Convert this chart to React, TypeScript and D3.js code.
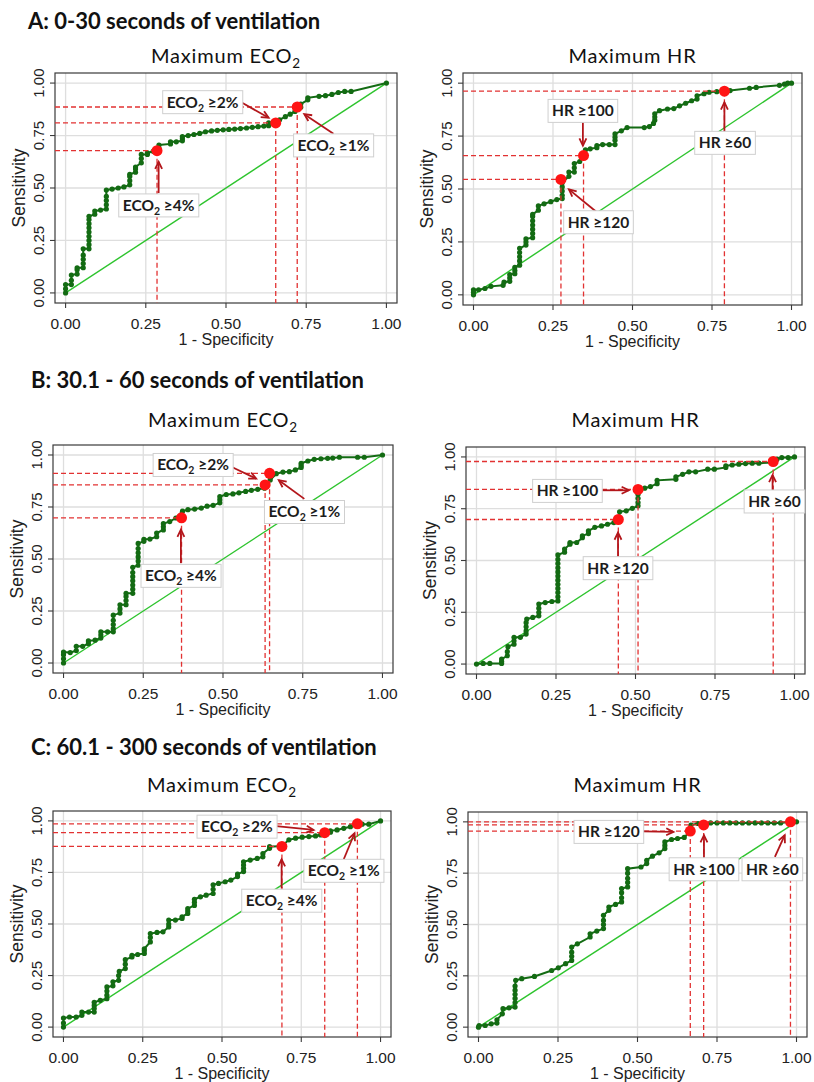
import React, { useEffect, useRef } from 'react';
import * as d3 from 'd3';

type Pt = [number, number];

// ---------------- DATA ----------------
const sectionTitles = [
  'A: 0-30 seconds of ventilation',
  'B: 30.1 - 60 seconds of ventilation',
  'C: 60.1 - 300 seconds of ventilation',
];
const xTicks = [0, 0.25, 0.5, 0.75, 1];
const yTicks = [0, 0.25, 0.5, 0.75, 1];

const rocA_ECO2: Pt[] = [
  [0, 0], [0, 0.02], [0, 0.04],
  [0.018, 0.04], [0.018, 0.06], [0.018, 0.085],
  [0.036, 0.09], [0.036, 0.11], [0.036, 0.12],
  [0.055, 0.12], [0.055, 0.14], [0.055, 0.16], [0.055, 0.18], [0.055, 0.21],
  [0.073, 0.21], [0.073, 0.23], [0.073, 0.25], [0.073, 0.27], [0.073, 0.29], [0.073, 0.31], [0.073, 0.33], [0.073, 0.35], [0.073, 0.365],
  [0.091, 0.375], [0.091, 0.39],
  [0.109, 0.395],
  [0.127, 0.4], [0.127, 0.42], [0.127, 0.44], [0.127, 0.46], [0.127, 0.49],
  [0.145, 0.495], [0.164, 0.5], [0.182, 0.505],
  [0.2, 0.515], [0.2, 0.535], [0.2, 0.555], [0.2, 0.565],
  [0.218, 0.575], [0.218, 0.59], [0.218, 0.6],
  [0.236, 0.62], [0.236, 0.64], [0.236, 0.66],
  [0.255, 0.66], [0.255, 0.667], [0.273, 0.675],
  [0.291, 0.69], [0.291, 0.705],
  [0.327, 0.71], [0.327, 0.72], [0.345, 0.72],
  [0.364, 0.725], [0.364, 0.735], [0.364, 0.745],
  [0.382, 0.75], [0.4, 0.755], [0.418, 0.76], [0.436, 0.768], [0.455, 0.772], [0.473, 0.775],
  [0.491, 0.777], [0.509, 0.779], [0.527, 0.781], [0.545, 0.783], [0.564, 0.786], [0.582, 0.789], [0.6, 0.792], [0.618, 0.795],
  [0.633, 0.797], [0.633, 0.81], [0.655, 0.81],
  [0.667, 0.825], [0.685, 0.84], [0.7, 0.852], [0.715, 0.865],
  [0.733, 0.885], [0.733, 0.9],
  [0.755, 0.92], [0.755, 0.93],
  [0.79, 0.937], [0.81, 0.94], [0.83, 0.946], [0.85, 0.955], [0.87, 0.96], [0.89, 0.96],
  [1, 1],
];

const rocA_HR: Pt[] = [
  [0, 0], [0, 0.012], [0, 0.024],
  [0.016, 0.024], [0.036, 0.03], [0.055, 0.04],
  [0.093, 0.045], [0.096, 0.06],
  [0.114, 0.064], [0.114, 0.08], [0.114, 0.096],
  [0.13, 0.1], [0.13, 0.115], [0.13, 0.13],
  [0.145, 0.14], [0.145, 0.16], [0.145, 0.18], [0.145, 0.2], [0.145, 0.22],
  [0.165, 0.235], [0.165, 0.25], [0.165, 0.265],
  [0.186, 0.27], [0.186, 0.29], [0.186, 0.31], [0.186, 0.33], [0.186, 0.35], [0.186, 0.37], [0.186, 0.38],
  [0.204, 0.4], [0.204, 0.42],
  [0.222, 0.43], [0.243, 0.44], [0.262, 0.45],
  [0.279, 0.455], [0.279, 0.47], [0.279, 0.49], [0.279, 0.51], [0.279, 0.53],
  [0.3, 0.56], [0.3, 0.58],
  [0.317, 0.58], [0.317, 0.6], [0.317, 0.62],
  [0.334, 0.63], [0.347, 0.66], [0.352, 0.685], [0.367, 0.69],
  [0.388, 0.695], [0.388, 0.705],
  [0.406, 0.71], [0.427, 0.71],
  [0.445, 0.71], [0.445, 0.73], [0.445, 0.745], [0.445, 0.76],
  [0.465, 0.775], [0.483, 0.79], [0.537, 0.79], [0.553, 0.795],
  [0.566, 0.81], [0.57, 0.825], [0.57, 0.84], [0.57, 0.855],
  [0.585, 0.87], [0.61, 0.878], [0.63, 0.88], [0.648, 0.893], [0.667, 0.905], [0.686, 0.917],
  [0.703, 0.925], [0.703, 0.94],
  [0.725, 0.95], [0.741, 0.957], [0.765, 0.96], [0.789, 0.963], [0.807, 0.965],
  [0.868, 0.976], [0.889, 0.98], [0.962, 0.99], [0.978, 0.995], [0.988, 1], [1, 1],
];

const rocB_ECO2: Pt[] = [
  [0, 0], [0, 0.02], [0, 0.04], [0, 0.053],
  [0.021, 0.05],
  [0.04, 0.06], [0.04, 0.08], [0.06, 0.08],
  [0.078, 0.093], [0.078, 0.106], [0.099, 0.11],
  [0.117, 0.12], [0.117, 0.135], [0.117, 0.15], [0.138, 0.15],
  [0.156, 0.15], [0.156, 0.165], [0.156, 0.185], [0.156, 0.205], [0.156, 0.23],
  [0.177, 0.24], [0.177, 0.26], [0.177, 0.28],
  [0.196, 0.28], [0.196, 0.3], [0.196, 0.32], [0.196, 0.335],
  [0.217, 0.335], [0.217, 0.355], [0.217, 0.375], [0.217, 0.395], [0.217, 0.415], [0.217, 0.435], [0.217, 0.46],
  [0.234, 0.47], [0.234, 0.49], [0.234, 0.51], [0.234, 0.53], [0.234, 0.55], [0.234, 0.575],
  [0.252, 0.585], [0.252, 0.595], [0.271, 0.596],
  [0.292, 0.607], [0.292, 0.625],
  [0.313, 0.64], [0.313, 0.655], [0.313, 0.67],
  [0.333, 0.68], [0.352, 0.697],
  [0.373, 0.73], [0.39, 0.737], [0.411, 0.74], [0.432, 0.745], [0.45, 0.754], [0.469, 0.758],
  [0.49, 0.77], [0.49, 0.785], [0.49, 0.8],
  [0.51, 0.81], [0.531, 0.813], [0.55, 0.818], [0.571, 0.825], [0.589, 0.83], [0.609, 0.835],
  [0.63, 0.84], [0.635, 0.855], [0.648, 0.88],
  [0.667, 0.91], [0.688, 0.918], [0.708, 0.92], [0.727, 0.928],
  [0.745, 0.94], [0.745, 0.95], [0.745, 0.96],
  [0.766, 0.971], [0.786, 0.979], [0.807, 0.982], [0.828, 0.984], [0.844, 0.985], [0.865, 0.989],
  [0.922, 0.989], [0.943, 0.989], [1, 1],
];

const rocB_HR: Pt[] = [
  [0, 0], [0.021, 0.003], [0.042, 0.003],
  [0.079, 0.003], [0.079, 0.012], [0.079, 0.024],
  [0.097, 0.04], [0.097, 0.06], [0.099, 0.084],
  [0.118, 0.096], [0.118, 0.112], [0.118, 0.129], [0.138, 0.129],
  [0.156, 0.145], [0.156, 0.16], [0.156, 0.18], [0.156, 0.2], [0.158, 0.217],
  [0.177, 0.225],
  [0.196, 0.233], [0.196, 0.25], [0.196, 0.27], [0.196, 0.29],
  [0.216, 0.297], [0.237, 0.302],
  [0.256, 0.305], [0.256, 0.325], [0.256, 0.345], [0.256, 0.365], [0.256, 0.385], [0.256, 0.405], [0.256, 0.425],
  [0.256, 0.445], [0.256, 0.465], [0.256, 0.485], [0.256, 0.505], [0.256, 0.527],
  [0.277, 0.54], [0.277, 0.555],
  [0.294, 0.579], [0.294, 0.587], [0.315, 0.587],
  [0.333, 0.61], [0.333, 0.619],
  [0.352, 0.63], [0.352, 0.643],
  [0.372, 0.66], [0.393, 0.667], [0.412, 0.675], [0.432, 0.683], [0.448, 0.695],
  [0.45, 0.735], [0.471, 0.74], [0.49, 0.752],
  [0.508, 0.764], [0.508, 0.78], [0.508, 0.8], [0.508, 0.82], [0.508, 0.84],
  [0.529, 0.849], [0.547, 0.857],
  [0.568, 0.871], [0.568, 0.887],
  [0.627, 0.892], [0.627, 0.904],
  [0.648, 0.916], [0.668, 0.928], [0.689, 0.928], [0.727, 0.941], [0.748, 0.941],
  [0.784, 0.949], [0.784, 0.957],
  [0.804, 0.961], [0.825, 0.965], [0.846, 0.968], [0.867, 0.97], [0.888, 0.97], [0.93, 0.973],
  [0.945, 0.989], [0.96, 0.997], [0.98, 0.997], [1, 1],
];

const rocC_ECO2: Pt[] = [
  [0, 0], [0, 0.02], [0, 0.044],
  [0.019, 0.049], [0.04, 0.049],
  [0.058, 0.057], [0.058, 0.073], [0.079, 0.073],
  [0.097, 0.073], [0.097, 0.09], [0.097, 0.105], [0.097, 0.12],
  [0.116, 0.13],
  [0.137, 0.138], [0.137, 0.155], [0.137, 0.175], [0.137, 0.195],
  [0.156, 0.2], [0.156, 0.22],
  [0.174, 0.227], [0.174, 0.25], [0.176, 0.27],
  [0.195, 0.284], [0.195, 0.305], [0.195, 0.327],
  [0.216, 0.34], [0.216, 0.348], [0.234, 0.352],
  [0.255, 0.357], [0.255, 0.37], [0.255, 0.38],
  [0.274, 0.413], [0.274, 0.435], [0.274, 0.454],
  [0.295, 0.459], [0.314, 0.462],
  [0.332, 0.486], [0.332, 0.5], [0.332, 0.519], [0.353, 0.519],
  [0.374, 0.527], [0.374, 0.535],
  [0.392, 0.551], [0.392, 0.563], [0.392, 0.575],
  [0.413, 0.59], [0.413, 0.605], [0.413, 0.62],
  [0.432, 0.632], [0.45, 0.64],
  [0.472, 0.648], [0.472, 0.668], [0.472, 0.69],
  [0.489, 0.697], [0.51, 0.705], [0.528, 0.713],
  [0.549, 0.73], [0.549, 0.742],
  [0.568, 0.754], [0.568, 0.77], [0.568, 0.786], [0.568, 0.802],
  [0.589, 0.81], [0.611, 0.818],
  [0.629, 0.826], [0.629, 0.842],
  [0.65, 0.867], [0.65, 0.875], [0.689, 0.878],
  [0.711, 0.908], [0.732, 0.916], [0.753, 0.921], [0.774, 0.924], [0.795, 0.927], [0.811, 0.932], [0.826, 0.943],
  [0.842, 0.945], [0.842, 0.952],
  [0.863, 0.956], [0.884, 0.964], [0.905, 0.972], [0.926, 0.984], [0.942, 0.984], [0.963, 0.984], [1, 1],
];

const rocC_HR: Pt[] = [
  [0, 0], [0.002, 0.008], [0.021, 0.008], [0.04, 0.016],
  [0.058, 0.02], [0.058, 0.036],
  [0.075, 0.065], [0.077, 0.09], [0.096, 0.094],
  [0.115, 0.098], [0.115, 0.12], [0.115, 0.14], [0.115, 0.16], [0.115, 0.18], [0.115, 0.2], [0.117, 0.228],
  [0.136, 0.236], [0.176, 0.247], [0.23, 0.276], [0.251, 0.289], [0.274, 0.309],
  [0.293, 0.325], [0.293, 0.345], [0.293, 0.365], [0.293, 0.39],
  [0.311, 0.406],
  [0.351, 0.439], [0.351, 0.455], [0.372, 0.468],
  [0.393, 0.48], [0.393, 0.5], [0.393, 0.52], [0.393, 0.545],
  [0.41, 0.569], [0.41, 0.585], [0.431, 0.598],
  [0.45, 0.61], [0.45, 0.63], [0.45, 0.655], [0.45, 0.675],
  [0.469, 0.683], [0.469, 0.705], [0.469, 0.725], [0.469, 0.75], [0.469, 0.772],
  [0.511, 0.78], [0.529, 0.797], [0.529, 0.813], [0.547, 0.833], [0.568, 0.849],
  [0.586, 0.87], [0.586, 0.885], [0.586, 0.902],
  [0.607, 0.914], [0.626, 0.919], [0.647, 0.924],
  [0.665, 0.955], [0.668, 0.984], [0.69, 0.992], [0.71, 0.995],
  [0.73, 0.995], [0.75, 0.995], [0.77, 0.995], [0.79, 0.995], [0.81, 0.995], [0.83, 0.995], [0.85, 0.995],
  [0.87, 0.995], [0.89, 0.995], [0.91, 0.995], [0.93, 0.995], [0.95, 0.995], [0.98, 1], [1, 1],
];

type Cut = { pre: string; sub: string; post: string; fpr: number; sens: number };
const cutsA_ECO2: Cut[] = [
  { pre: 'ECO', sub: '2', post: ' ≥4%', fpr: 0.285, sens: 0.678 },
  { pre: 'ECO', sub: '2', post: ' ≥2%', fpr: 0.655, sens: 0.81 },
  { pre: 'ECO', sub: '2', post: ' ≥1%', fpr: 0.722, sens: 0.886 },
];
const cutsA_HR: Cut[] = [
  { pre: 'HR ≥120', sub: '', post: '', fpr: 0.275, sens: 0.545 },
  { pre: 'HR ≥100', sub: '', post: '', fpr: 0.346, sens: 0.658 },
  { pre: 'HR ≥60', sub: '', post: '', fpr: 0.789, sens: 0.962 },
];
const cutsB_ECO2: Cut[] = [
  { pre: 'ECO', sub: '2', post: ' ≥4%', fpr: 0.37, sens: 0.698 },
  { pre: 'ECO', sub: '2', post: ' ≥2%', fpr: 0.632, sens: 0.856 },
  { pre: 'ECO', sub: '2', post: ' ≥1%', fpr: 0.646, sens: 0.912 },
];
const cutsB_HR: Cut[] = [
  { pre: 'HR ≥120', sub: '', post: '', fpr: 0.446, sens: 0.698 },
  { pre: 'HR ≥100', sub: '', post: '', fpr: 0.508, sens: 0.843 },
  { pre: 'HR ≥60', sub: '', post: '', fpr: 0.933, sens: 0.978 },
];
const cutsC_ECO2: Cut[] = [
  { pre: 'ECO', sub: '2', post: ' ≥4%', fpr: 0.689, sens: 0.876 },
  { pre: 'ECO', sub: '2', post: ' ≥2%', fpr: 0.824, sens: 0.943 },
  { pre: 'ECO', sub: '2', post: ' ≥1%', fpr: 0.927, sens: 0.986 },
];
const cutsC_HR: Cut[] = [
  { pre: 'HR ≥120', sub: '', post: '', fpr: 0.666, sens: 0.955 },
  { pre: 'HR ≥100', sub: '', post: '', fpr: 0.708, sens: 0.985 },
  { pre: 'HR ≥60', sub: '', post: '', fpr: 0.981, sens: 1.0 },
];

// annotation placement (data units): label centre, arrow start, arrow tip
type Note = { lx: number; ly: number; x1: number; y1: number; x2: number; y2: number };
const notesA_ECO2: Note[] = [
  { lx: 0.29, ly: 0.417, x1: 0.29, y1: 0.476, x2: 0.29, y2: 0.625 },
  { lx: 0.427, ly: 0.909, x1: 0.542, y1: 0.913, x2: 0.633, y2: 0.835 },
  { lx: 0.835, ly: 0.703, x1: 0.835, y1: 0.759, x2: 0.744, y2: 0.852 },
];
const notesA_HR: Note[] = [
  { lx: 0.393, ly: 0.343, x1: 0.388, y1: 0.39, x2: 0.3, y2: 0.498 },
  { lx: 0.344, ly: 0.869, x1: 0.344, y1: 0.821, x2: 0.344, y2: 0.705 },
  { lx: 0.791, ly: 0.718, x1: 0.789, y1: 0.766, x2: 0.789, y2: 0.909 },
];
const notesB_ECO2: Note[] = [
  { lx: 0.368, ly: 0.419, x1: 0.368, y1: 0.48, x2: 0.368, y2: 0.641 },
  { lx: 0.406, ly: 0.952, x1: 0.521, y1: 0.947, x2: 0.604, y2: 0.886 },
  { lx: 0.755, ly: 0.726, x1: 0.755, y1: 0.789, x2: 0.675, y2: 0.879 },
];
const notesB_HR: Note[] = [
  { lx: 0.445, ly: 0.463, x1: 0.445, y1: 0.514, x2: 0.445, y2: 0.635 },
  { lx: 0.286, ly: 0.836, x1: 0.393, y1: 0.839, x2: 0.479, y2: 0.839 },
  { lx: 0.937, ly: 0.785, x1: 0.931, y1: 0.836, x2: 0.931, y2: 0.913 },
];
const notesC_ECO2: Note[] = [
  { lx: 0.688, ly: 0.613, x1: 0.688, y1: 0.673, x2: 0.688, y2: 0.814 },
  { lx: 0.547, ly: 0.972, x1: 0.663, y1: 0.976, x2: 0.789, y2: 0.956 },
  { lx: 0.884, ly: 0.758, x1: 0.884, y1: 0.814, x2: 0.918, y2: 0.94 },
];
const notesC_HR: Note[] = [
  { lx: 0.41, ly: 0.951, x1: 0.515, y1: 0.954, x2: 0.613, y2: 0.951 },
  { lx: 0.709, ly: 0.769, x1: 0.709, y1: 0.821, x2: 0.709, y2: 0.935 },
  { lx: 0.924, ly: 0.769, x1: 0.932, y1: 0.829, x2: 0.963, y2: 0.935 },
];

// ---------------- LAYOUT ----------------
const W = 814;
const H = 1082;
const sectionLayout = [
  { x: 28, y: 29, titleY: 63 },
  { x: 31, y: 388, titleY: 427 },
  { x: 31, y: 755, titleY: 792 },
];

type Panel = {
  section: number; isECO2: boolean; roc: Pt[]; cuts: Cut[]; notes: Note[];
  box: [number, number, number, number];
};
const panels: Panel[] = [
  { section: 0, isECO2: true, roc: rocA_ECO2, cuts: cutsA_ECO2, notes: notesA_ECO2, box: [55, 73, 397, 303] },
  { section: 0, isECO2: false, roc: rocA_HR, cuts: cutsA_HR, notes: notesA_HR, box: [463, 73, 802, 305] },
  { section: 1, isECO2: true, roc: rocB_ECO2, cuts: cutsB_ECO2, notes: notesB_ECO2, box: [53, 445, 393, 673] },
  { section: 1, isECO2: false, roc: rocB_HR, cuts: cutsB_HR, notes: notesB_HR, box: [466, 447, 805, 674] },
  { section: 2, isECO2: true, roc: rocC_ECO2, cuts: cutsC_ECO2, notes: notesC_ECO2, box: [53, 811, 391, 1037] },
  { section: 2, isECO2: false, roc: rocC_HR, cuts: cutsC_HR, notes: notesC_HR, box: [468, 812, 807, 1037] },
];

const CAL = 'Lato, "Open Sans", sans-serif';
const ARIAL = '"Liberation Sans", Arial, sans-serif';
const GREEN = '#136b13';
const DIAG = '#2ec42e';
const RED = '#ff1414';
const DASH = '#e23232';
const ARROW = '#b3161b';

export default function App() {
  const ref = useRef<SVGSVGElement | null>(null);

  useEffect(() => {
    const svg = d3.select(ref.current);
    svg.selectAll('*').remove();

    // section headings
    sectionTitles.forEach((t, i) => {
      svg.append('text')
        .attr('x', sectionLayout[i].x).attr('y', sectionLayout[i].y)
        .attr('font-family', CAL).attr('font-weight', 700).attr('font-size', 22)
        .attr('fill', '#111').text(t);
    });

    panels.forEach((p) => {
      const [L, T, R, B] = p.box;
      const x = d3.scaleLinear().domain([-0.033, 1.033]).range([L, R]);
      const y = d3.scaleLinear().domain([-0.048, 1.048]).range([B, T]);
      const g = svg.append('g');

      // subplot title
      const tt = g.append('text')
        .attr('x', (L + R) / 2).attr('y', sectionLayout[p.section].titleY)
        .attr('text-anchor', 'middle')
        .attr('font-family', CAL).attr('font-size', 20).attr('letter-spacing', 0.8).attr('fill', '#111');
      if (p.isECO2) {
        tt.append('tspan').text('Maximum ECO');
        tt.append('tspan').attr('font-size', 13.5).attr('dy', 5).text('2');
      } else {
        tt.append('tspan').text('Maximum HR');
      }

      // gridlines
      g.selectAll('.gx').data(xTicks).enter().append('line')
        .attr('x1', (d) => x(d)).attr('x2', (d) => x(d)).attr('y1', T).attr('y2', B)
        .attr('stroke', '#dedede').attr('stroke-width', 1.3);
      g.selectAll('.gy').data(yTicks).enter().append('line')
        .attr('y1', (d) => y(d)).attr('y2', (d) => y(d)).attr('x1', L).attr('x2', R)
        .attr('stroke', '#dedede').attr('stroke-width', 1.3);

      // frame
      g.append('rect').attr('x', L).attr('y', T).attr('width', R - L).attr('height', B - T)
        .attr('fill', 'none').attr('stroke', '#3a3a3a').attr('stroke-width', 1.2);

      // ticks
      g.selectAll('.tx').data(xTicks).enter().append('line')
        .attr('x1', (d) => x(d)).attr('x2', (d) => x(d)).attr('y1', B).attr('y2', B + 5)
        .attr('stroke', '#3a3a3a').attr('stroke-width', 1.1);
      g.selectAll('.ty').data(yTicks).enter().append('line')
        .attr('y1', (d) => y(d)).attr('y2', (d) => y(d)).attr('x1', L - 5).attr('x2', L)
        .attr('stroke', '#3a3a3a').attr('stroke-width', 1.1);

      // tick labels
      g.selectAll('.lx').data(xTicks).enter().append('text')
        .attr('x', (d) => x(d)).attr('y', B + 26).attr('text-anchor', 'middle')
        .attr('font-family', ARIAL).attr('font-size', 15.5).attr('fill', '#222')
        .text((d) => d3.format('.2f')(d));
      g.selectAll('.ly').data(yTicks).enter().append('text')
        .attr('transform', (d) => `translate(${L - 11},${y(d)}) rotate(-90)`)
        .attr('text-anchor', 'middle')
        .attr('font-family', ARIAL).attr('font-size', 15).attr('fill', '#222')
        .text((d) => d3.format('.2f')(d));

      // axis titles
      g.append('text').attr('x', (L + R) / 2).attr('y', B + 42).attr('text-anchor', 'middle')
        .attr('font-family', ARIAL).attr('font-size', 16).attr('fill', '#222').text('1 - Specificity');
      g.append('text').attr('transform', `translate(${L - 30},${(T + B) / 2}) rotate(-90)`)
        .attr('text-anchor', 'middle')
        .attr('font-family', ARIAL).attr('font-size', 17.5).attr('fill', '#222').text('Sensitivity');

      // diagonal reference
      g.append('line').attr('x1', x(0)).attr('y1', y(0)).attr('x2', x(1)).attr('y2', y(1))
        .attr('stroke', DIAG).attr('stroke-width', 1.4);

      // ROC curve
      const line = d3.line<Pt>().x((d) => x(d[0])).y((d) => y(d[1]));
      g.append('path').attr('d', line(p.roc) || '').attr('fill', 'none')
        .attr('stroke', GREEN).attr('stroke-width', 2);
      g.selectAll('.pt').data(p.roc).enter().append('circle')
        .attr('cx', (d) => x(d[0])).attr('cy', (d) => y(d[1])).attr('r', 2.6).attr('fill', GREEN);

      // dashed reference lines
      p.cuts.forEach((c) => {
        g.append('line').attr('x1', L).attr('x2', x(c.fpr)).attr('y1', y(c.sens)).attr('y2', y(c.sens))
          .attr('stroke', DASH).attr('stroke-width', 1.3).attr('stroke-dasharray', '5,3');
        g.append('line').attr('x1', x(c.fpr)).attr('x2', x(c.fpr)).attr('y1', y(c.sens)).attr('y2', B)
          .attr('stroke', DASH).attr('stroke-width', 1.3).attr('stroke-dasharray', '5,3');
      });
      // red cut points
      g.selectAll('.cp').data(p.cuts).enter().append('circle')
        .attr('cx', (d) => x(d.fpr)).attr('cy', (d) => y(d.sens)).attr('r', 5.5).attr('fill', RED);

      // annotations
      p.cuts.forEach((c, i) => {
        const n = p.notes[i];
        const ax1 = x(n.x1), ay1 = y(n.y1), ax2 = x(n.x2), ay2 = y(n.y2);
        g.append('line').attr('x1', ax1).attr('y1', ay1).attr('x2', ax2).attr('y2', ay2)
          .attr('stroke', ARROW).attr('stroke-width', 1.8);
        const ang = Math.atan2(ay2 - ay1, ax2 - ax1);
        const hl = 8, ha = 0.45;
        const hp = [
          [ax2 - hl * Math.cos(ang - ha), ay2 - hl * Math.sin(ang - ha)],
          [ax2, ay2],
          [ax2 - hl * Math.cos(ang + ha), ay2 - hl * Math.sin(ang + ha)],
        ];
        g.append('path').attr('d', `M${hp[0][0]},${hp[0][1]}L${hp[1][0]},${hp[1][1]}L${hp[2][0]},${hp[2][1]}`)
          .attr('fill', 'none').attr('stroke', ARROW).attr('stroke-width', 1.8);

        const lg = g.append('g');
        const rect = lg.append('rect');
        const tx = lg.append('text')
          .attr('x', x(n.lx)).attr('y', y(n.ly) + 5.5).attr('text-anchor', 'middle')
          .attr('font-family', CAL).attr('font-weight', 700).attr('font-size', 15.5).attr('fill', '#1c1c1c');
        tx.append('tspan').text(c.pre);
        if (c.sub) {
          tx.append('tspan').attr('font-size', 10.5).attr('dy', 4).text(c.sub);
          tx.append('tspan').attr('dy', -4).text(c.post);
        }
        const bb = (tx.node() as SVGTextElement).getBBox();
        rect.attr('x', bb.x - 4).attr('y', y(n.ly) - 11.5).attr('width', bb.width + 8).attr('height', 23)
          .attr('fill', '#fff').attr('stroke', '#cfcfcf').attr('stroke-width', 1);
      });
    });
  }, []);

  return (
    <svg ref={ref} width={W} height={H} viewBox={`0 0 ${W} ${H}`}
      style={{ position: 'absolute', left: 0, top: 0, background: '#fff' }} />
  );
}
